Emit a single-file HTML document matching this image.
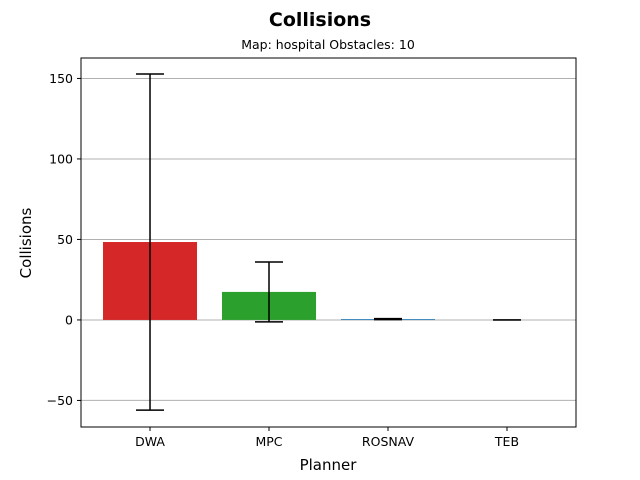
<!DOCTYPE html>
<html><head><meta charset="utf-8"><style>body{margin:0;background:#fff}svg{display:block;font-family:"DejaVu Sans","Liberation Sans",sans-serif}</style></head>
<body>
<svg id="c" width="640" height="480">
<text x="320" y="26" text-anchor="middle" font-size="19" font-weight="bold">Collisions</text>
<text x="328" y="49" text-anchor="middle" font-size="12.5">Map: hospital Obstacles: 10</text>
<text x="328" y="470" text-anchor="middle" font-size="15">Planner</text>
<text transform="translate(31,243) rotate(-90)" text-anchor="middle" font-size="15">Collisions</text>
<g id="g"></g>
<rect x="81" y="58" width="495" height="369" fill="none" stroke="#000" stroke-width="1"/>
</svg>
<script>
const categories=["DWA","MPC","ROSNAV","TEB"];
const means=[48.4,17.4,0.5,0];
const stds=[104.4,18.6,0.3,0.05];
const colors=["#d62728","#2ca02c","#1f77b4","#ff7f0e"];
const yTicks=[-50,0,50,100,150];
const L=81,R=576,T=58,B=427,yMin=-66.5,yMax=162.7;
const y=v=>B-(v-yMin)/(yMax-yMin)*(B-T);
const xMin=-0.58,xMax=3.58;
const xc=i=>L+(i-xMin)/(xMax-xMin)*(R-L);
const g=document.getElementById('g');
const ns="http://www.w3.org/2000/svg";
function mk(t,a){const e=document.createElementNS(ns,t);for(const k in a)e.setAttribute(k,a[k]);g.appendChild(e);return e;}
yTicks.forEach(v=>{
 const l=mk('line',{x1:L,x2:R,y1:y(v),y2:y(v),stroke:'#b0b0b0','stroke-width':1});
 
 
 const t=mk('line',{x1:L-4,x2:L,y1:y(v),y2:y(v),stroke:'#000'});
 
 
 const tx=mk('text',{x:L-8,y:y(v)+4.5,'text-anchor':'end','font-size':12.5});
 tx.textContent=v<0?'\u2212'+Math.abs(v):v;
 
 
});
categories.forEach((c,i)=>{
 const x=xc(i),w=94,m=means[i];
 const r=mk('rect',{x:x-w/2,y:Math.min(y(m),y(0)),width:w,height:Math.abs(y(0)-y(m)),fill:colors[i]});
 
 
 const lo=y(m-stds[i]),hi=y(m+stds[i]);
 const e=mk('path',{d:`M${x},${hi}V${lo}M${x-14},${hi}H${x+14}M${x-14},${lo}H${x+14}`,stroke:'#000','stroke-width':1.5,fill:'none'});
 
 
 const t=mk('line',{x1:x,x2:x,y1:B,y2:B+4,stroke:'#000'});
 
 
 const tx=mk('text',{x:x,y:B+19,'text-anchor':'middle','font-size':12.5});
 tx.textContent=c;
 
 
});
</script>
</body></html>
